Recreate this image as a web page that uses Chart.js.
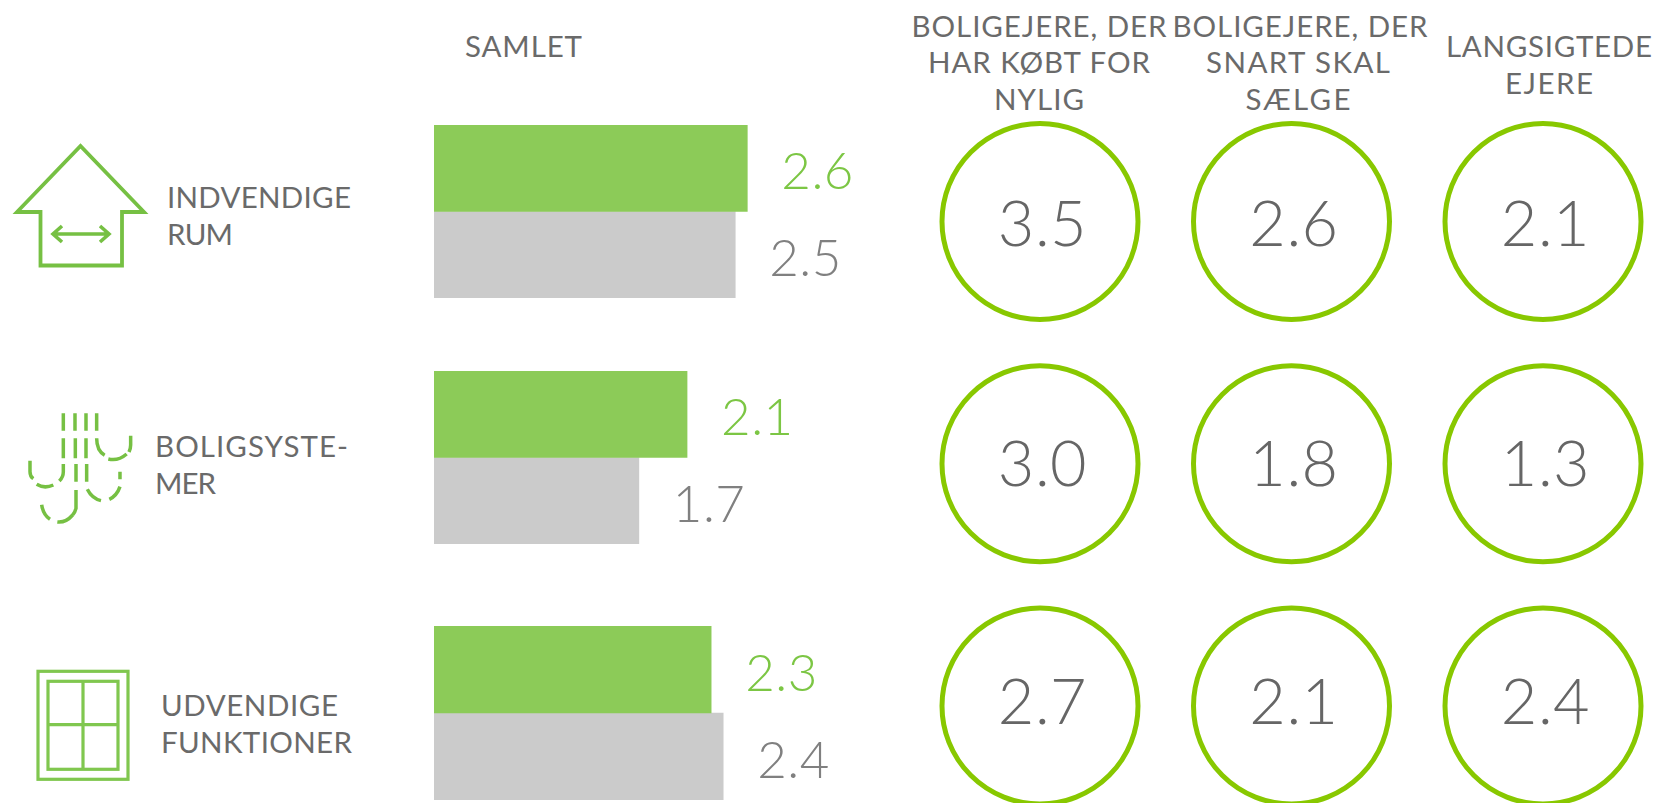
<!DOCTYPE html>
<html lang="da">
<head>
<meta charset="utf-8">
<title>Boligejere</title>
<script src="https://cdn.jsdelivr.net/npm/chart.js@4"></script>
<style>
html,body{margin:0;padding:0;background:#fff;width:1657px;height:803px;overflow:hidden}
#page{position:absolute;left:0;top:0;width:1657px;height:803px}
canvas{position:absolute}
svg{position:absolute;left:0;top:0}
svg text{font-family:Lato,sans-serif;font-size:29.5px;fill:#6a6a6a;font-weight:400}
.ic{fill:none;stroke:#76C043}
</style>
</head>
<body>
<div id="page">
<svg width="1657" height="803" id="deco">
  <text x="465" y="57" textLength="117">SAMLET</text>

  <g text-anchor="middle">
    <text x="1039" y="37" textLength="255">BOLIGEJERE, DER</text>
    <text x="1039" y="73" textLength="222">HAR KØBT FOR</text>
    <text x="1039" y="110" textLength="90">NYLIG</text>
    <text x="1300" y="37" textLength="255">BOLIGEJERE, DER</text>
    <text x="1298" y="73" textLength="184">SNART SKAL</text>
    <text x="1298" y="110" textLength="105">SÆLGE</text>
    <text x="1549" y="57" textLength="206">LANGSIGTEDE</text>
    <text x="1549" y="94" textLength="88">EJERE</text>
  </g>

  <text x="167" y="208" textLength="184">INDVENDIGE</text>
  <text x="167" y="245" textLength="66">RUM</text>
  <text x="155" y="457" textLength="193">BOLIGSYSTE-</text>
  <text x="155" y="494" textLength="61">MER</text>
  <text x="161" y="716" textLength="177">UDVENDIGE</text>
  <text x="161" y="753" textLength="191">FUNKTIONER</text>

  <g class="ic" stroke-width="3.8">
    <path d="M40.5 212 H17 L80.5 146 L144 212 H122 V265.5 H40.5 Z"/>
    <path d="M53 234 H109 M62 226 L53 234 L62 242 M100 226 L109 234 L100 242" stroke-width="3.6"/>
  </g>
  <g class="ic" transform="translate(0,390) scale(0.3333)" stroke-width="10.5">
    <path d="M190 70V122 M225 70V122 M258 70V122 M290 70V122"/>
    <path d="M190 145V205 M226 145V205 M258 145V205"/>
    <path d="M290 145 C290 175 300 188 314 196 M325 207 C345 212 365 205 380 192 M392 137 V165 C392 175 390 180 387 186"/>
    <path d="M90 212 V245 C90 256 94 262 100 266 M110 283 C125 292 145 292 160 285 M190 222 V245 C190 256 186 265 178 273"/>
    <path d="M228 222 V275 M260 222 V275 M360 245 V268"/>
    <path d="M360 290 C355 305 345 320 328 328 M262 298 C272 318 285 328 303 332"/>
    <path d="M228 300 V355 C226 364 222 370 218 375 M172 396 C190 398 205 390 218 375 M125 344 C128 365 138 380 150 388"/>
  </g>
  <g class="ic" stroke-width="3.2" style="stroke:#80C74F">
    <rect x="38" y="671.3" width="90" height="108"/>
    <rect x="48" y="681.3" width="70" height="88"/>
    <path d="M83 681.3 V769.3 M48 724.7 H118"/>
  </g>
</svg>
<canvas id="row0"></canvas>
<canvas id="row1"></canvas>
<canvas id="row2"></canvas>
<canvas id="rings"></canvas>
</div>
<script>
// ---- data ----
const categories = ["INDVENDIGE RUM", "BOLIGSYSTEMER", "UDVENDIGE FUNKTIONER"];
const segments = ["BOLIGEJERE, DER HAR KØBT FOR NYLIG", "BOLIGEJERE, DER SNART SKAL SÆLGE", "LANGSIGTEDE EJERE"];
const samletGreen = [2.6, 2.1, 2.3];
const samletGray = [2.5, 1.7, 2.4];
const recentBuyers = [3.5, 3.0, 2.7];
const soonSellers = [2.6, 1.8, 2.1];
const longTermOwners = [2.1, 1.3, 2.4];

// ---- layout & style ----
const barFrames = [{top:125,height:173},{top:371,height:173},{top:626,height:174}];
const BAR_LEFT = 434, BAR_WIDTH = 482, AXIS_MAX = 4;
const GREEN_BAR = "#8CCB58", GRAY_BAR = "#CBCBCB", GREEN_TEXT = "#7CC644", GRAY_TEXT = "#808080";
const RING = "#88C800", RING_TEXT = "#666666";
const NUM_FONT = 'Lato, sans-serif';
const ringTextDrop = [24.5, 22, 18];

Chart.defaults.animation = false;
Chart.defaults.plugins.legend.display = false;
Chart.defaults.plugins.tooltip.enabled = false;

const barValueLabels = {
  id: "barValueLabels",
  afterDatasetsDraw(chart) {
    const ctx = chart.ctx;
    ctx.save();
    ctx.font = "300 51px " + NUM_FONT;
    ctx.letterSpacing = "0.5px";
    ctx.textBaseline = "alphabetic";
    ctx.textAlign = "left";
    chart.data.datasets.forEach((ds, i) => {
      const el = chart.getDatasetMeta(i).data[0];
      ctx.fillStyle = ds.labelColor;
      ctx.fillText(ds.data[0].toFixed(1), el.x + 34, el.y + 21);
    });
    ctx.restore();
  }
};

function setFrame(canvas, left, top, width, height) {
  canvas.width = width; canvas.height = height;
  canvas.style.left = left + "px"; canvas.style.top = top + "px";
  canvas.style.width = width + "px"; canvas.style.height = height + "px";
}

categories.forEach((cat, i) => {
  const canvas = document.getElementById("row" + i);
  const f = barFrames[i];
  setFrame(canvas, BAR_LEFT, f.top, BAR_WIDTH, f.height);
  new Chart(canvas, {
    type: "bar",
    data: {
      labels: [cat],
      datasets: [
        {label: "Samlet A", data: [samletGreen[i]], backgroundColor: GREEN_BAR, labelColor: GREEN_TEXT},
        {label: "Samlet B", data: [samletGray[i]], backgroundColor: GRAY_BAR, labelColor: GRAY_TEXT}
      ]
    },
    options: {
      indexAxis: "y",
      responsive: false,
      maintainAspectRatio: false,
      layout: {padding: 0},
      datasets: {bar: {categoryPercentage: 1, barPercentage: 1}},
      scales: {
        x: {type: "linear", min: 0, max: AXIS_MAX, display: false},
        y: {type: "category", display: false}
      }
    },
    plugins: [barValueLabels]
  });
});

const ringValues = {
  id: "ringValues",
  afterDatasetsDraw(chart) {
    const ctx = chart.ctx;
    ctx.save();
    ctx.font = "300 63px " + NUM_FONT;
    ctx.letterSpacing = "0.5px";
    ctx.textAlign = "center";
    ctx.textBaseline = "alphabetic";
    ctx.fillStyle = RING_TEXT;
    chart.data.datasets.forEach((ds, i) => {
      chart.getDatasetMeta(i).data.forEach((el, j) => {
        ctx.fillText(ds.values[j].toFixed(1), el.x + 2.5, el.y + ringTextDrop[j]);
      });
    });
    ctx.restore();
  }
};

const ringCanvas = document.getElementById("rings");
setFrame(ringCanvas, 930, 110, 727, 693);
const ringSeries = [recentBuyers, soonSellers, longTermOwners];
new Chart(ringCanvas, {
  type: "scatter",
  data: {
    datasets: ringSeries.map((vals, s) => ({
      label: segments[s],
      values: vals,
      data: vals.map((v, c) => ({x: segments[s], y: categories[c]})),
      pointRadius: 98,
      pointHoverRadius: 98,
      pointBorderWidth: 5,
      pointBorderColor: RING,
      pointBackgroundColor: "rgba(255,255,255,0)",
      clip: false
    }))
  },
  options: {
    responsive: false,
    maintainAspectRatio: false,
    layout: {autoPadding: false, padding: {left: 110, right: 114, top: 111.5, bottom: 97}},
    scales: {
      x: {type: "category", labels: segments, display: false, offset: false},
      y: {type: "category", labels: categories, display: false, offset: false}
    }
  },
  plugins: [ringValues]
});
</script>
</body>
</html>
